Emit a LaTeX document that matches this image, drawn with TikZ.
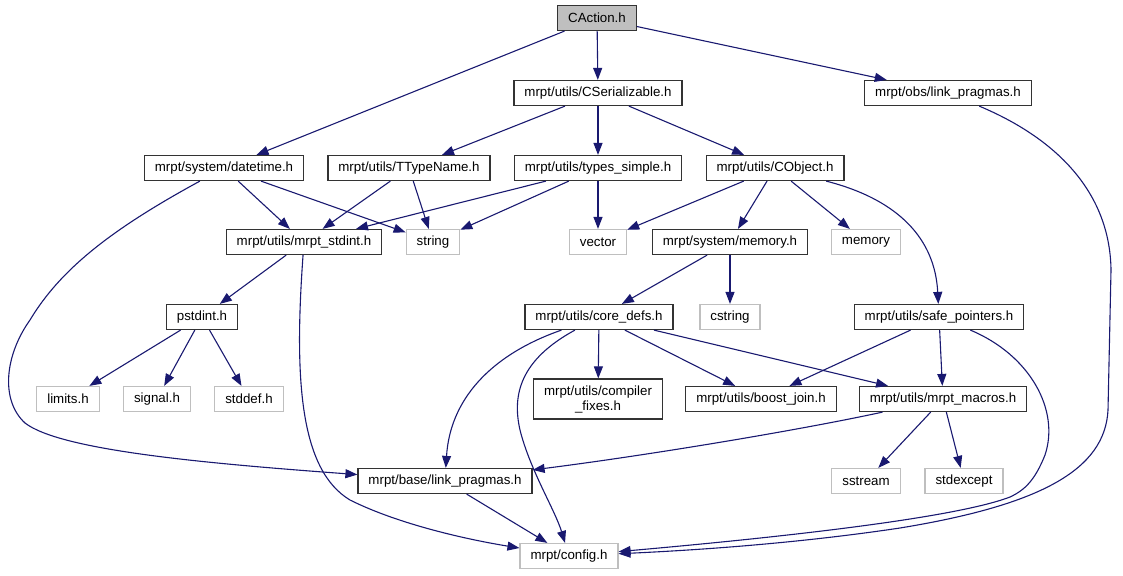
\documentclass[tikz,border=0pt]{standalone}
\usepackage{fontspec}
\setmainfont{Liberation Sans}
\usetikzlibrary{arrows.meta}

\definecolor{edgeblue}{HTML}{191970}
\definecolor{boxgrey}{HTML}{BFBFBF}

\begin{document}
\begin{tikzpicture}[x=1pt,y=-1pt,
  font=\fontsize{13.3}{15}\selectfont,
  file/.style={draw=black!80,line width=1.2pt,rectangle,minimum height=25pt,
    inner xsep=10.5pt,inner ysep=0pt},
  sysfile/.style={file,draw=boxgrey},
  edge/.style={draw=edgeblue,line width=1.1pt,
    -{Triangle[length=12pt,width=9pt]}}]
  \useasboundingbox (0,0) rectangle (1123,575);

  \node[file,fill=boxgrey] (caction) at (597,18) {CAction.h};
  \node[file] (cserial) at (598,93) {mrpt/utils/CSerializable.h};
  \node[file] (obslink) at (948,93) {mrpt/obs/link\_pragmas.h};
  \node[file] (datetime) at (224,168) {mrpt/system/datetime.h};
  \node[file] (ttype) at (409,168) {mrpt/utils/TTypeName.h};
  \node[file] (typessimple) at (598,168) {mrpt/utils/types\_simple.h};
  \node[file] (cobject) at (775,168) {mrpt/utils/CObject.h};
  \node[file] (stdint) at (304,242) {mrpt/utils/mrpt\_stdint.h};
  \node[sysfile] (string) at (433,242) {string};
  \node[sysfile] (vector) at (598,242) {vector};
  \node[file] (memoryh) at (730,242) {mrpt/system/memory.h};
  \node[sysfile] (memory) at (866,242) {memory};
  \node[file] (pstdint) at (202,317) {pstdint.h};
  \node[file] (coredefs) at (599,317) {mrpt/utils/core\_defs.h};
  \node[sysfile] (cstring) at (730,317) {cstring};
  \node[file] (safeptr) at (939,317) {mrpt/utils/safe\_pointers.h};
  \node[sysfile] (limits) at (68,399) {limits.h};
  \node[sysfile] (signal) at (157,399) {signal.h};
  \node[sysfile] (stddef) at (249,399) {stddef.h};
  \node[file,minimum height=40pt,align=center] (compfix) at (598,399)
    {mrpt/utils/compiler\\\_fixes.h};
  \node[file] (boostjoin) at (761,399) {mrpt/utils/boost\_join.h};
  \node[file] (macros) at (943,399) {mrpt/utils/mrpt\_macros.h};
  \node[file] (baselink) at (445,481) {mrpt/base/link\_pragmas.h};
  \node[sysfile] (sstream) at (866,481) {sstream};
  \node[sysfile] (stdexcept) at (964,481) {stdexcept};
  \node[sysfile] (config) at (569,556) {mrpt/config.h};

  % straight includes
  \foreach \a/\b in {caction/datetime,caction/cserial,caction/obslink,
      cserial/ttype,cserial/typessimple,cserial/cobject,
      datetime/stdint,datetime/string,ttype/stdint,ttype/string,
      typessimple/stdint,typessimple/string,typessimple/vector,
      cobject/vector,cobject/memoryh,cobject/memory,
      stdint/pstdint,memoryh/coredefs,memoryh/cstring,
      pstdint/limits,pstdint/signal,pstdint/stddef,
      coredefs/compfix,coredefs/boostjoin,coredefs/macros,
      safeptr/boostjoin,safeptr/macros,
      macros/sstream,macros/stdexcept,baselink/config}
    \draw[edge] (\a) -- (\b);

  % curved includes
  \draw[edge] (obslink) .. controls (1060,140) and (1110,195) .. (1111,270)
    -- (1108,410) .. controls (1105,470) and (1040,505) .. (900,528)
    .. controls (800,543) and (700,550) .. (config);
  \draw[edge] (safeptr) .. controls (1030,355) and (1060,410) .. (1045,455)
    .. controls (1035,480) and (1025,490) .. (1010,497)
    .. controls (950,520) and (750,540) .. (config);
  \draw[edge] (cobject) .. controls (900,200) and (935,240) .. (safeptr);
  \draw[edge] (datetime) .. controls (110,230) and (60,270) .. (30,320)
    .. controls (5,355) and (0,400) .. (25,423)
    .. controls (60,450) and (200,463) .. (baselink);
  \draw[edge] (stdint) .. controls (294,380) and (300,470) .. (350,500)
    .. controls (400,525) and (470,540) .. (config);
  \draw[edge] (coredefs) .. controls (490,355) and (450,400) .. (baselink);
  \draw[edge] (coredefs) .. controls (520,360) and (512,395) .. (520,430)
    .. controls (530,470) and (555,510) .. (config);
  \draw[edge] (macros) .. controls (800,430) and (650,455) .. (baselink);
\end{tikzpicture}
\end{document}
